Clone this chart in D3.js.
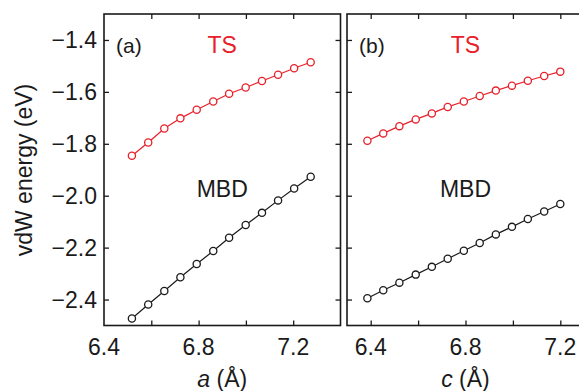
<!DOCTYPE html>
<html>
<head>
<meta charset="utf-8">
<script src="https://cdnjs.cloudflare.com/ajax/libs/d3/7.8.5/d3.min.js"></script>
<style>
  body { margin: 0; background: #fff; }
  svg { display: block; font-family: "Liberation Sans", Arial, Helvetica, sans-serif; }
</style>
</head>
<body>
<svg id="chart" width="579" height="391"></svg>
<script>
// panel (a): vdW energy vs lattice a
var aX = [6.518, 6.587, 6.655, 6.723, 6.792, 6.862, 6.929, 6.999, 7.068, 7.136, 7.204, 7.274];
var aTS = [-1.846, -1.795, -1.741, -1.702, -1.669, -1.637, -1.607, -1.583, -1.558, -1.534, -1.509, -1.486];
var aMBD = [-2.473, -2.419, -2.367, -2.314, -2.263, -2.213, -2.162, -2.113, -2.066, -2.018, -1.972, -1.927];

// panel (b): vdW energy vs lattice c
var cX = [6.386, 6.453, 6.521, 6.590, 6.658, 6.725, 6.793, 6.860, 6.928, 6.996, 7.063, 7.132, 7.200];
var cTS = [-1.788, -1.760, -1.732, -1.706, -1.683, -1.658, -1.637, -1.616, -1.595, -1.576, -1.557, -1.539, -1.522];
var cMBD = [-2.395, -2.364, -2.335, -2.304, -2.274, -2.243, -2.212, -2.182, -2.149, -2.120, -2.090, -2.061, -2.032];

var yTicks = [-2.4, -2.2, -2.0, -1.8, -1.6, -1.4];
var xTicksA = [6.6, 6.8, 7.0, 7.2];
var xLabelsA = [6.4, 6.8, 7.2];
var xTicksC = [6.4, 6.6, 6.8, 7.0, 7.2];
var xLabelsC = [6.4, 6.8, 7.2];

var red = "#e8202a", black = "#1a1a1a";
var svg = d3.select("#chart");

var yTop = 14, yBottom = 325.5;
var y = d3.scaleLinear().domain([-2.5, -1.3]).range([yBottom, yTop]);

function panel(left, right, xDomain, xs, ts, mbd, xTicks, xLabels, tag, xname, showY) {
    var x = d3.scaleLinear().domain(xDomain).range([left, right]);
    var g = svg.append("g");
    var fs = 23;

    // frame
    g.append("rect")
        .attr("x", left).attr("y", yTop)
        .attr("width", right - left).attr("height", yBottom - yTop)
        .attr("fill", "none").attr("stroke", black).attr("stroke-width", 1.6);

    // inward ticks on all sides
    var tl = 5;
    g.append("g").attr("transform", "translate(0," + yBottom + ")")
        .call(d3.axisTop(x).tickValues(xTicks).tickSize(tl).tickFormat(""));
    g.append("g").attr("transform", "translate(0," + yTop + ")")
        .call(d3.axisBottom(x).tickValues(xTicks).tickSize(tl).tickFormat(""));
    g.append("g").attr("transform", "translate(" + left + ",0)")
        .call(d3.axisRight(y).tickValues(yTicks).tickSize(tl).tickFormat(""));
    g.append("g").attr("transform", "translate(" + right + ",0)")
        .call(d3.axisLeft(y).tickValues(yTicks).tickSize(tl).tickFormat(""));
    g.selectAll(".domain").remove();
    g.selectAll(".tick line").attr("stroke", black).attr("stroke-width", 1.3);

    // x tick labels
    g.selectAll(".xl").data(xLabels).enter().append("text")
        .attr("x", function(d) { return x(d); })
        .attr("y", 355)
        .attr("text-anchor", "middle")
        .attr("font-size", fs).attr("fill", black)
        .text(function(d) { return d3.format(".1f")(d); });

    if (showY) {
        g.selectAll(".yl").data(yTicks).enter().append("text")
            .attr("x", left - 7)
            .attr("y", function(d) { return y(d); })
            .attr("dy", "0.36em")
            .attr("text-anchor", "end")
            .attr("font-size", fs).attr("fill", black)
            .text(function(d) { return d3.format(".1f")(d).replace("-", "\u2212"); });
    }

    // x axis title
    var t = g.append("text")
        .attr("x", (left + right) / 2).attr("y", 387)
        .attr("text-anchor", "middle")
        .attr("font-size", fs).attr("fill", black);
    t.append("tspan").attr("font-style", "italic").text(xname);
    t.append("tspan").text(" (\u00c5)");

    // lines and markers
    var line = d3.line()
        .x(function(d) { return x(d[0]); })
        .y(function(d) { return y(d[1]); });

    [[ts, red], [mbd, black]].forEach(function(s) {
        var pts = xs.map(function(v, i) { return [v, s[0][i]]; });
        g.append("path").datum(pts)
            .attr("d", line)
            .attr("fill", "none").attr("stroke", s[1]).attr("stroke-width", 1.2);
        g.selectAll(null).data(pts).enter().append("circle")
            .attr("cx", function(d) { return x(d[0]); })
            .attr("cy", function(d) { return y(d[1]); })
            .attr("r", 3.6)
            .attr("fill", "#fff").attr("stroke", s[1]).attr("stroke-width", 1.3);
    });

    // annotations
    g.append("text").attr("x", left + 12).attr("y", 52.5)
        .attr("font-size", 21).attr("fill", black).text(tag);
    g.append("text").attr("x", (left + right) / 2).attr("y", 52.5)
        .attr("text-anchor", "middle")
        .attr("font-size", fs).attr("fill", red).text("TS");
    g.append("text").attr("x", (left + right) / 2).attr("y", 197)
        .attr("text-anchor", "middle")
        .attr("font-size", fs).attr("fill", black).text("MBD");
}

panel(104, 340.5, [6.4, 7.4], aX, aTS, aMBD, xTicksA, xLabelsA, "(a)", "a", true);
panel(347, 584, [6.3, 7.3], cX, cTS, cMBD, xTicksC, xLabelsC, "(b)", "c", false);

// y axis title
svg.append("text")
    .attr("transform", "translate(32,170) rotate(-90)")
    .attr("text-anchor", "middle")
    .attr("font-size", 23).attr("fill", black)
    .text("vdW energy (eV)");
</script>
</body>
</html>
